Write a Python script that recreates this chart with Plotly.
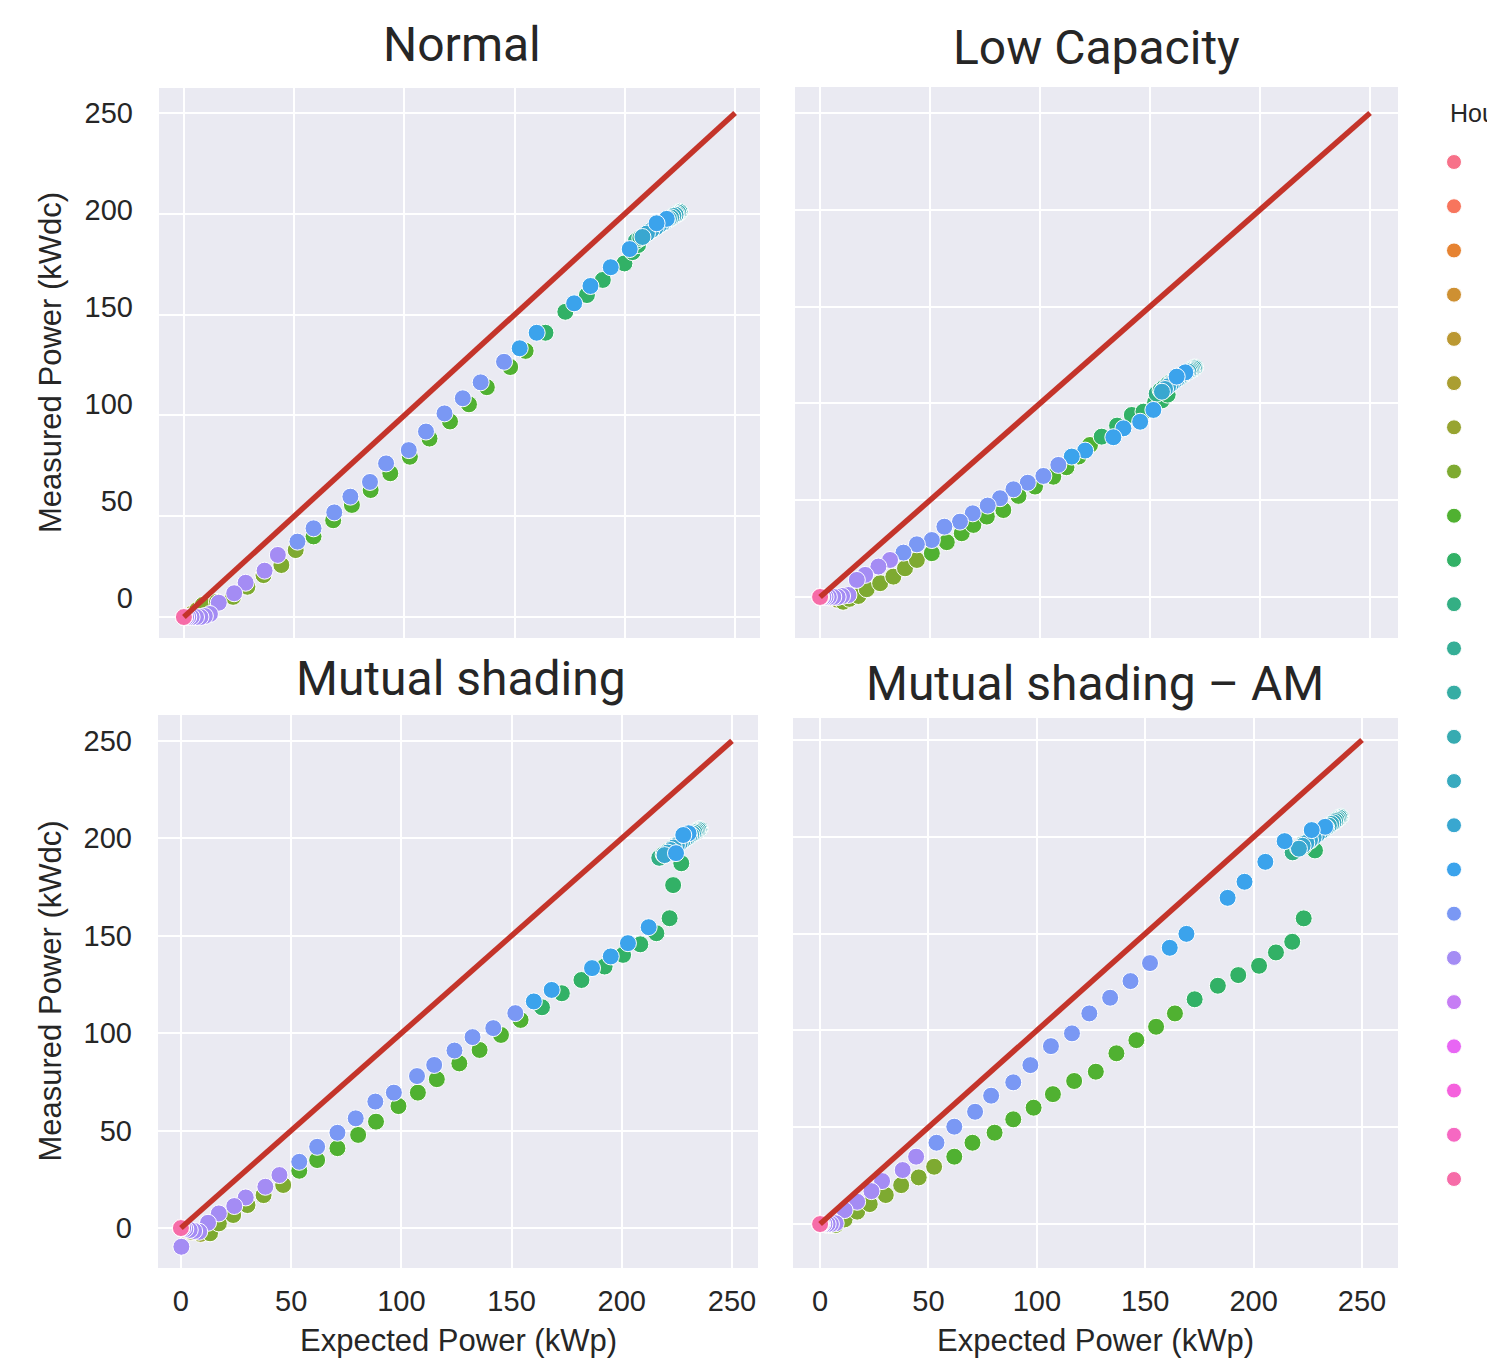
import math
import plotly.graph_objects as go

W, H = 1495, 1360
OFF = 8                      # page margin of the html body
FW, FH = W - OFF, H - OFF    # figure size

# ---------------- data ----------------
TICKS = [0, 50, 100, 150, 200, 250]
TICK_TEXT = ["0", "50", "100", "150", "200", "250"]
LEGEND_HOURS = list(range(24))
REF_EXP = [0, 250]
REF_MEAS = [0, 250]

NORMAL_HOUR = [0, 1, 2, 3, 4, 5,
               6, 6, 6,
               7, 7, 7, 7, 7, 7, 7,
               8, 8, 8, 8, 8, 8, 8, 8, 8, 8, 8, 8,
               9, 9, 9, 9, 9, 9, 9,
               10, 10, 10, 10, 10, 10,
               11, 11, 11, 11, 11, 11,
               12, 12, 12, 12, 12, 12,
               13, 13, 13, 13, 13, 13,
               14, 14, 14, 14, 14, 14,
               15, 15, 15, 15, 15, 15,
               16, 16, 16, 16, 16, 16, 16, 16,
               17, 17, 17, 17, 17, 17, 17, 17, 17, 17, 17, 17,
               18, 18, 18, 18, 18, 18, 18, 18, 18, 18, 18, 18,
               19, 20, 21, 22, 23]
NORMAL_EXP = [0, 0, 0, 0, 0, 0,
              1.5, 3.5, 6,
              8.6, 15, 22.3, 28.8, 36.1, 44.2, 50.7,
              58.8, 67.7, 76.2, 84.7, 93.6, 102.5, 111.4, 120.7, 129.3, 137.4, 148, 155,
              164, 173, 182.8, 190, 199.8, 203.5, 206,
              205, 207, 209, 211, 213, 215,
              216.5, 218, 219.5, 221, 222, 223,
              224, 224.5, 225, 224.5, 224, 223.5,
              224, 224.8, 224.2, 223.5, 223, 222.5,
              223, 222, 221, 220, 219, 218,
              217, 215.5, 214, 212, 210, 208,
              219, 214.4, 202.2, 193.6, 184.4, 177, 160, 152.3,
              145.2, 134.6, 126.5, 118.2, 109.8, 102, 91.7, 84.4, 75.5, 68.2, 58.8, 51.5,
              42.6, 36.6, 28, 22.8, 15.8, 11.8, 9.5, 7.5, 5.5, 3.5, 2, 1,
              0, 0, 0, 0, 0]
NORMAL_MEAS = [0, 0, 0, 0, 0, 0,
               0.5, 1.5, 3.5,
               6, 7.5, 10, 15, 20.8, 25.8, 33.2,
               40, 48, 55.6, 63, 71.3, 79.5, 88.5, 97, 105.5, 114, 124, 132,
               141, 151.4, 159.7, 167.2, 175.4, 181, 184.5,
               186.5, 188, 189.5, 191, 192.5, 194,
               195, 196, 197, 198, 199, 199.5,
               200, 200.5, 201, 200.8, 200.3, 200,
               200.5, 201, 200.6, 200, 199.6, 199.2,
               199.5, 199, 198.2, 197.5, 196.8, 196,
               195.3, 194.3, 193.2, 191.8, 190.2, 188.5,
               197.5, 195.3, 182.5, 173.5, 164.2, 155.6, 141, 133.3,
               126.6, 116.4, 108.5, 101, 92, 82.8, 76.2, 67, 59.7, 51.9, 44, 37.4,
               30.8, 23, 17, 11.8, 7.1, 1.5, 0.5, 0, 0, 0, 0, 0,
               0, 0, 0, 0, 0]

LOWCAP_HOUR = [0, 1, 2, 3, 4, 5,
               6, 6, 6,
               7, 7, 7, 7, 7, 7, 7, 7,
               8, 8, 8, 8, 8, 8, 8, 8, 8, 8, 8, 8,
               9, 9, 9, 9, 9, 9, 9,
               10, 10, 10, 10, 10, 10,
               11, 11, 11, 11, 11, 11,
               12, 12, 12, 12, 12, 12,
               13, 13, 13, 13, 13, 13,
               14, 14, 14, 14, 14, 14,
               15, 15, 15, 15, 15, 15,
               16, 16, 16, 16, 16, 16, 16, 16,
               17, 17, 17, 17, 17, 17, 17, 17, 17, 17, 17, 17,
               18, 18, 18, 18, 18, 18, 18, 18, 18, 18, 18, 18,
               19, 20, 21, 22, 23]
LOWCAP_EXP = [0, 0, 0, 0, 0, 0,
              2, 5, 8,
              10.5, 13.3, 17.4, 21.2, 27.3, 33.3, 38.6, 44,
              50.8, 57.6, 64.4, 69.7, 75.8, 83.3, 90.2, 97.7, 106, 112, 117.5, 122.7,
              128, 135, 141.7, 147, 152.3, 155.3, 158,
              153, 154.8, 156.5, 158.2, 159.8, 161.4,
              163, 164.4, 165.8, 167, 168.2, 169.2,
              170, 170.5, 170.2, 169.8, 169.4, 169,
              169.6, 170.3, 169.9, 169.2, 168.6, 168,
              167.4, 166.6, 165.8, 165, 164, 163,
              162, 160.8, 159.5, 158.2, 156.8, 155.4,
              166, 162.1, 151.5, 145.5, 137.9, 133.3, 120.5, 114.4,
              108.3, 101.5, 94.4, 87.9, 81.8, 76.2, 69.4, 63.6, 56.5, 50.8, 44, 37.9,
              31.8, 26.5, 20.5, 16.7, 12.9, 10, 8, 6, 4, 2.5, 1.5, 0.5,
              0, 0, 0, 0, 0]
LOWCAP_MEAS = [0, 0, 0, 0, 0, 0,
               0, -0.5, -1.5,
               -2.5, -1, 0.5, 4, 7.1, 10.5, 14.8, 19.1,
               22.6, 28.3, 32.9, 37.2, 41.5, 44.9, 52.2, 57, 62.1, 67, 72.5, 78.5,
               82.8, 88.5, 94, 95.7, 100.5, 101.5, 104.5,
               105, 106.8, 108.4, 110, 111.2, 112.5,
               113.6, 114.6, 115.6, 116.5, 117.2, 117.8,
               118.3, 118.6, 118.4, 118, 117.8, 117.5,
               117.9, 118.4, 118.1, 117.6, 117.2, 116.8,
               116.4, 115.8, 115.2, 114.6, 113.8, 113,
               112.2, 111.2, 110, 108.8, 107.4, 106,
               116, 113.8, 96.6, 90.5, 87.1, 82.5, 75.6, 72.5,
               68.2, 62.5, 59, 55.6, 51, 47.2, 43.2, 38.9, 36.3, 29.4, 27.2, 22.9,
               19.1, 15.7, 11.4, 8.8, 1, 0.5, 0, 0, 0, 0, 0, 0,
               0, 0, 0, 0, 0]

SHADE_HOUR = [0, 1, 2, 3, 4, 5,
              6, 6, 6,
              7, 7, 7, 7, 7, 7,
              8, 8, 8, 8, 8, 8, 8, 8, 8, 8, 8, 8,
              9, 9, 9, 9, 9, 9, 9, 9, 9, 9,
              10, 10, 10, 10, 10, 10,
              11, 11, 11, 11, 11, 11,
              12, 12, 12, 12, 12, 12,
              13, 13, 13, 13, 13, 13,
              14, 14, 14, 14, 14, 14,
              15, 15, 15, 15, 15, 15,
              16, 16, 16, 16, 16, 16, 16, 16, 16,
              17, 17, 17, 17, 17, 17, 17, 17, 17, 17, 17, 17,
              18, 18, 18, 18, 18, 18, 18, 18, 18, 18, 18, 18,
              19, 20, 21, 22, 23]
SHADE_EXP = [0, 0, 0, 0, 0, 0,
             2, 5, 9,
             13.2, 17.2, 23.7, 30.2, 37.5, 46.4,
             53.7, 61.8, 71, 80.4, 88.5, 98.7, 107.5, 116.1, 126.3, 135.5, 145.2, 154.1,
             163.8, 172.8, 181.7, 192.2, 200.6, 208.4, 215.7, 221.7, 223.3, 227,
             217, 219, 221, 223, 225, 227,
             228.5, 230, 231.3, 232.5, 233.5, 234.3,
             235, 235.4, 235.1, 234.7, 234.3, 234,
             234.6, 235.2, 234.8, 234.2, 233.6, 233,
             232.3, 231.5, 230.6, 229.6, 228.6, 227.5,
             226.3, 225, 223.6, 222.2, 220.8, 219.4,
             230.3, 227.9, 224.6, 212.2, 202.8, 195, 186.5, 168.2, 160.1,
             151.7, 141.7, 132.3, 124.1, 114.9, 107.1, 96.6, 88.2, 79.3, 71, 61.8, 53.7,
             44.7, 38.3, 29.4, 24.2, 17.2, 12.3, 8.3, 6, 4, 2, 0.2, 1,
             0, 0, 0, 0, 0]
SHADE_MEAS = [0, 0, 0, 0, 0, 0,
              -1, -2, -3,
              -2.7, 2.4, 6.7, 11.8, 16.9, 22.1,
              29.4, 34.9, 41, 47.8, 54.6, 62.6, 69.5, 76.4, 84.5, 91.4, 99.1, 106.8,
              113.3, 120.5, 127.3, 134.2, 140.2, 145.6, 151.3, 159, 176, 187.2,
              190, 191.8, 193.5, 195.2, 196.8, 198.3,
              199.5, 200.7, 201.7, 202.6, 203.3, 203.9,
              204.4, 204.7, 204.5, 204.2, 203.9, 203.6,
              204.1, 204.6, 204.3, 203.8, 203.4, 203,
              202.4, 201.8, 201.1, 200.3, 199.5, 198.6,
              197.6, 196.5, 195.3, 194, 192.7, 191.4,
              202.6, 201.7, 192.4, 154.4, 146.2, 139.4, 133.4, 122.2, 116.3,
              110.3, 102.6, 98, 91.1, 83.7, 78, 69.5, 64.9, 56.3, 48.9, 41.7, 34,
              27.2, 21.2, 15.7, 11.3, 7.5, 2.7, -1.9, -1.5, -1, -0.5, -9.6, 0,
              0, 0, 0, 0, 0]

AM_HOUR = [0, 1, 2, 3, 4, 5,
           6, 6, 6,
           7, 7, 7, 7, 7, 7, 7, 7,
           8, 8, 8, 8, 8, 8, 8, 8, 8, 8, 8, 8,
           9, 9, 9, 9, 9, 9, 9, 9, 9, 9,
           10, 10, 10, 10, 10, 10,
           11, 11, 11, 11, 11, 11,
           12, 12, 12, 12, 12, 12,
           13, 13, 13, 13, 13, 13,
           14, 14, 14, 14, 14, 14,
           15, 15, 15, 15, 15, 15,
           16, 16, 16, 16, 16, 16, 16, 16,
           17, 17, 17, 17, 17, 17, 17, 17, 17, 17, 17, 17,
           18, 18, 18, 18, 18, 18, 18, 18, 18, 18, 18, 18,
           19, 20, 21, 22, 23]
AM_EXP = [0, 0, 0, 0, 0, 0,
          1.5, 3.5, 5,
          7.2, 11.3, 17.1, 22.9, 30.3, 37.4, 45.5, 52.6,
          61.9, 70.3, 80.5, 89.1, 98.5, 107.4, 117.2, 127.2, 136.7, 145.9, 155, 163.7,
          172.8, 183.5, 192.9, 202.5, 210.3, 217.8, 223.1, 228.3, 223, 226,
          218, 220.5, 223, 225.5, 228, 230.5,
          232.5, 234.3, 235.9, 237.2, 238.3, 239.2,
          239.8, 240.2, 239.9, 239.5, 239.1, 238.7,
          239.3, 239.9, 239.5, 238.9, 238.3, 237.6,
          236.8, 235.8, 234.7, 233.5, 232.2, 230.8,
          229.3, 227.7, 226, 224.3, 222.6, 220.9,
          233, 226.8, 214.3, 205.4, 195.8, 188, 169, 161.3,
          152.2, 143.2, 133.8, 124.2, 116.2, 106.5, 97, 89.1, 78.9, 71.5, 61.9, 53.7,
          44.3, 38.1, 28.6, 23.7, 17.1, 11.3, 7.2, 5, 3.5, 2, 1, 0.5,
          0, 0, 0, 0, 0]
AM_MEAS = [0, 0, 0, 0, 0, 0,
           0, -0.5, -0.5,
           -0.5, 2.4, 6.4, 10.3, 15, 20.1, 24.1, 29.6,
           34.8, 42, 47.2, 54.1, 60.1, 67.1, 73.9, 78.7, 88.2, 95, 101.9, 108.8,
           116.1, 123.1, 128.6, 133.4, 140.3, 145.8, 157.9, 193, 195, 198,
           192, 194.2, 196.4, 198.5, 200.6, 202.5,
           204, 205.4, 206.6, 207.7, 208.6, 209.4,
           210, 210.4, 210.1, 209.8, 209.4, 209.1,
           209.6, 210.2, 209.9, 209.3, 208.8, 208.2,
           207.5, 206.7, 205.8, 204.8, 203.7, 202.5,
           201.2, 199.8, 198.4, 196.9, 195.4, 193.9,
           205.2, 203.5, 197.8, 187.1, 176.8, 168.5, 149.9, 142.7,
           134.8, 125.5, 116.9, 108.8, 98.5, 91.9, 82.1, 73.2, 66.3, 58, 50.3, 42,
           34.8, 27.9, 22.2, 17, 11.5, 7.2, 0.4, 0, 0, 0, 0, 0,
           0, 0, 0, 0, 0]

for a, b, c in [(NORMAL_HOUR, NORMAL_EXP, NORMAL_MEAS), (LOWCAP_HOUR, LOWCAP_EXP, LOWCAP_MEAS),
                (SHADE_HOUR, SHADE_EXP, SHADE_MEAS), (AM_HOUR, AM_EXP, AM_MEAS)]:
    assert len(a) == len(b) == len(c), (len(a), len(b), len(c))

# ---------------- husl palette (seaborn husl_palette(24)) ----------------
_M = [[3.2406, -1.5372, -0.4986], [-0.9689, 1.8758, 0.0415], [0.0557, -0.2040, 1.0570]]
_REFU, _REFV = 0.19784, 0.46834


def _max_chroma(L, Hh):
    hrad = math.radians(Hh)
    sinH, cosH = math.sin(hrad), math.cos(hrad)
    sub1 = math.pow(L + 16, 3.0) / 1560896.0
    sub2 = sub1 if sub1 > 0.008856 else (L / 903.3)
    result = float("inf")
    for m1, m2, m3 in _M:
        top = (0.99915 * m1 + 1.05122 * m2 + 1.14460 * m3) * sub2
        rbottom = 0.86330 * m3 - 0.17266 * m2
        lbottom = 0.12949 * m3 - 0.38848 * m1
        bottom = (rbottom * sinH + lbottom * cosH) * sub2
        for t in (0.0, 1.0):
            C = L * (top - 1.05122 * t) / (bottom + 0.17266 * sinH * t)
            if 0.0 < C < result:
                result = C
    return result


def _husl_to_hex(h, s, l):
    C = _max_chroma(l, h) / 100.0 * s
    U, V = math.cos(math.radians(h)) * C, math.sin(math.radians(h)) * C
    t = (l + 16.0) / 116.0
    Y = t ** 3 if t ** 3 > 0.008856 else (116.0 * t - 16.0) / 903.3
    varU = U / (13.0 * l) + _REFU
    varV = V / (13.0 * l) + _REFV
    X = 0.0 - (9.0 * Y * varU) / ((varU - 4.0) * varV - varU * varV)
    Z = (9.0 * Y - (15.0 * varV * Y) - (varV * X)) / (3.0 * varV)
    out = []
    for row in _M:
        c = row[0] * X + row[1] * Y + row[2] * Z
        c = 12.92 * c if c <= 0.0031308 else 1.055 * math.pow(c, 1 / 2.4) - 0.055
        c = min(max(c, 0.0), 1.0)
        out.append(int(round(c * 255)))
    return "#%02x%02x%02x" % tuple(out)


PALETTE = [_husl_to_hex(((i / 24.0 + 0.01) % 1) * 359, 0.9 * 99, 0.65 * 99) for i in range(24)]

# ---------------- style ----------------
BG = "#EAEAF2"
TEXT = "#262626"
TICK_FONT = dict(family="Liberation Sans, Arial, sans-serif", size=29, color=TEXT)
LABEL_FONT = dict(family="Liberation Sans, Arial, sans-serif", size=31, color=TEXT)
TITLE_FONT = dict(family="Roboto, sans-serif", size=48, color=TEXT)


def fx(p):
    return (p - OFF) / FW


def fy(p):
    return 1 - (p - OFF) / FH


PANELS = [
    dict(title="Normal", hour=NORMAL_HOUR, exp=NORMAL_EXP, meas=NORMAL_MEAS,
         px=(159, 760), py=(88, 638), xr=(-11.3, 261.3), yr=(-10.4, 262.4), row=0, col=0, tx=462, ty=44),
    dict(title="Low Capacity", hour=LOWCAP_HOUR, exp=LOWCAP_EXP, meas=LOWCAP_MEAS,
         px=(795, 1398), py=(87, 638), xr=(-11.4, 262.7), yr=(-21.2, 263.4), row=0, col=1, tx=1096, ty=47),
    dict(title="Mutual shading", hour=SHADE_HOUR, exp=SHADE_EXP, meas=SHADE_MEAS,
         px=(158, 758), py=(715, 1268), xr=(-10.4, 261.8), yr=(-20.5, 263.3), row=1, col=0, tx=461, ty=678),
    dict(title="Mutual shading – AM", hour=AM_HOUR, exp=AM_EXP, meas=AM_MEAS,
         px=(793, 1398), py=(718, 1268), xr=(-12.5, 266.6), yr=(-22.7, 261.4), row=1, col=1, tx=1095, ty=683),
]

fig = go.Figure()
layout_axes = {}
shapes = []
annotations = []

for i, p in enumerate(PANELS):
    n = "" if i == 0 else str(i + 1)
    fig.add_trace(go.Scatter(
        x=p["exp"], y=p["meas"], xaxis="x" + n, yaxis="y" + n, mode="markers",
        marker=dict(size=17, color=[PALETTE[h] for h in p["hour"]],
                    line=dict(color="white", width=1)),
        showlegend=False, hoverinfo="x+y"))
    fig.add_trace(go.Scatter(
        x=REF_EXP, y=REF_MEAS, xaxis="x" + n, yaxis="y" + n, mode="lines",
        line=dict(color="#c4342a", width=5.5), showlegend=False, hoverinfo="skip"))

    common = dict(showgrid=True, gridcolor="white", gridwidth=2, zeroline=False,
                  showline=False, tickvals=TICKS, ticktext=TICK_TEXT, ticks="",
                  tickfont=TICK_FONT, fixedrange=True)
    layout_axes["xaxis" + n] = dict(domain=[fx(p["px"][0]), fx(p["px"][1])], range=list(p["xr"]),
                                    anchor="y" + n, showticklabels=(p["row"] == 1),
                                    ticklabelstandoff=13, **common)
    layout_axes["yaxis" + n] = dict(domain=[fy(p["py"][1]), fy(p["py"][0])], range=list(p["yr"]),
                                    anchor="x" + n, showticklabels=(p["col"] == 0 and i != 0),
                                    ticklabelstandoff=25, **common)
    shapes.append(dict(type="rect", xref="x" + n + " domain", yref="y" + n + " domain",
                       x0=0, x1=1, y0=0, y1=1, fillcolor=BG, line=dict(width=0), layer="below"))
    annotations.append(dict(text=p["title"], xref="paper", yref="paper",
                            x=fx(p["tx"]), y=fy(p["ty"]),
                            xanchor="center", yanchor="middle", showarrow=False, font=TITLE_FONT))
    if p["col"] == 0:
        annotations.append(dict(text="Measured Power (kWdc)", xref="paper", yref="paper",
                                x=fx(50), y=fy((p["py"][0] + p["py"][1]) / 2), textangle=-90,
                                xanchor="center", yanchor="middle", showarrow=False, font=LABEL_FONT))
    if p["row"] == 1:
        annotations.append(dict(text="Expected Power (kWp)", xref="paper", yref="paper",
                                x=fx((p["px"][0] + p["px"][1]) / 2), y=fy(1340),
                                xanchor="center", yanchor="middle", showarrow=False, font=LABEL_FONT))

# tick-label axis for the top-left panel (labels follow the shared-y scale)
layout_axes["yaxis5"] = dict(range=[-20.6, 262.9], overlaying="y", anchor="x", side="left",
                             showgrid=False, zeroline=False, showline=False, tickvals=TICKS,
                             ticktext=TICK_TEXT, ticks="", tickfont=TICK_FONT,
                             ticklabelstandoff=25, fixedrange=True)
fig.add_trace(go.Scatter(x=[0], y=[0], xaxis="x", yaxis="y5", mode="markers",
                         marker=dict(opacity=0), showlegend=False, hoverinfo="skip"))

# legend (hue = hour)
layout_axes["xaxis5"] = dict(domain=[fx(1434), fx(1474)], range=[-1, 1], anchor="y6",
                             visible=False, fixedrange=True)
layout_axes["yaxis6"] = dict(domain=[fy(1201.1), fy(139.9)], range=[23.5, -0.5],
                             anchor="x5", visible=False, fixedrange=True)
fig.add_trace(go.Scatter(x=[0] * len(LEGEND_HOURS), y=LEGEND_HOURS, xaxis="x5", yaxis="y6",
                         mode="markers", marker=dict(size=15, color=[PALETTE[h] for h in LEGEND_HOURS],
                                                     line=dict(color="white", width=1)),
                         text=[str(h) for h in LEGEND_HOURS], hoverinfo="text", showlegend=False))
annotations.append(dict(text="Hour", xref="paper", yref="paper", x=fx(1448), y=fy(113),
                        xanchor="left", yanchor="middle", showarrow=False,
                        font=dict(family="Liberation Sans, Arial, sans-serif", size=25, color=TEXT)))

fig.update_layout(width=FW, height=FH, margin=dict(l=0, r=0, t=0, b=0),
                  paper_bgcolor="white", plot_bgcolor="rgba(0,0,0,0)",
                  shapes=shapes, annotations=annotations, showlegend=False,
                  **layout_axes)

fig.write_html("out.html")
